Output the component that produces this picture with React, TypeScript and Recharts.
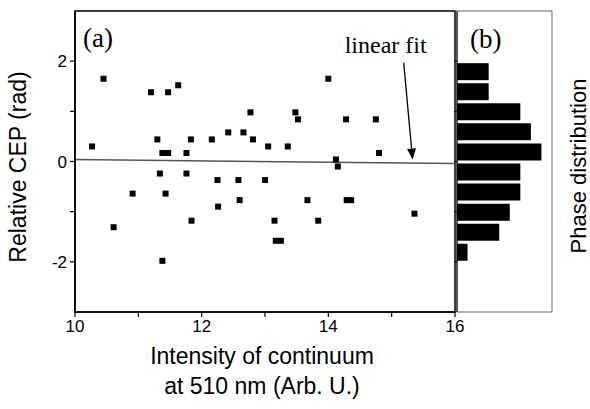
import React from 'react';
import {
  ScatterChart,
  Scatter,
  XAxis,
  YAxis,
  ReferenceLine,
  ReferenceArea,
  BarChart,
  Bar,
} from 'recharts';

// ---- Data ----
const intensity = [
  10.45, 11.2, 11.47, 11.63, 10.27, 11.3, 11.83, 11.38, 11.47, 11.76,
  14.0, 12.77, 13.48, 13.52, 12.16, 12.42, 12.66, 12.81, 13.05, 13.36,
  14.28, 14.75, 14.8, 14.12, 14.15, 11.34, 11.76, 10.91, 11.43, 11.84,
  10.61, 11.38, 12.25, 12.58, 13.0, 12.26, 12.6, 13.67, 13.15, 13.84,
  13.17, 13.25, 14.29, 14.36, 15.36,
];
const relativeCep = [
  1.65, 1.38, 1.38, 1.52, 0.3, 0.44, 0.44, 0.17, 0.17, 0.17,
  1.65, 0.98, 0.98, 0.84, 0.44, 0.58, 0.58, 0.44, 0.3, 0.3,
  0.84, 0.84, 0.17, 0.04, -0.1, -0.24, -0.24, -0.64, -0.64, -1.18,
  -1.31, -1.98, -0.37, -0.37, -0.37, -0.9, -0.77, -0.77, -1.18, -1.18,
  -1.58, -1.58, -0.77, -0.77, -1.04,
];
const xTicks = [10, 11, 12, 13, 14, 15, 16];
const yTicks = [-2, -1, 0, 1, 2];
const fitX = [10, 16];
const fitY = [0.04, -0.04];
const arrowX = [15.19, 15.33];
const arrowY = [1.97, 0.04];
const phaseBins = [1.8, 1.4, 1.0, 0.6, 0.2, -0.2, -0.6, -1.0, -1.4, -1.8];
const phaseCounts = [3, 3, 6, 7, 8, 6, 6, 5, 4, 1];

const points = intensity.map((x, i) => ({ x, y: relativeCep[i] }));
const hist = phaseBins.map((p, i) => ({ phase: p, count: phaseCounts[i] }));

const SANS = '"Liberation Sans", Arial, sans-serif';
const SERIF = '"Liberation Serif", "Times New Roman", serif';

const Square = (props: any) => {
  const { cx, cy } = props;
  if (cx == null || cy == null) return null;
  return <rect x={cx - 3} y={cy - 3} width={6} height={6} fill="#000" />;
};

const ArrowShape = (props: any) => {
  const { x1, y1, x2, y2 } = props;
  const dx = x2 - x1;
  const dy = y2 - y1;
  const len = Math.sqrt(dx * dx + dy * dy) || 1;
  const ux = dx / len;
  const uy = dy / len;
  const hl = 11;
  const hw = 4.5;
  const bx = x2 - ux * hl;
  const by = y2 - uy * hl;
  const px = -uy;
  const py = ux;
  return (
    <g>
      <line x1={x1} y1={y1} x2={bx} y2={by} stroke="#000" strokeWidth={1.3} />
      <polygon
        points={`${x2},${y2} ${bx + px * hw},${by + py * hw} ${bx - px * hw},${by - py * hw}`}
        fill="#000"
      />
      <text x={x1 - 18} y={y1 - 10} textAnchor="middle" fontFamily={SERIF} fontSize={24} fill="#000">
        linear fit
      </text>
    </g>
  );
};

const EmptyTick = () => <g />;

export default function App() {
  return (
    <div style={{ position: 'absolute', left: 0, top: 0, width: 590, height: 409, background: '#fff' }}>
      <div style={{ position: 'absolute', left: 0, top: 0 }}>
        <ScatterChart width={590} height={409} margin={{ top: 11, right: 135, bottom: 0, left: 0 }}>
          <XAxis
            type="number"
            dataKey="x"
            domain={[10, 16]}
            ticks={xTicks}
            interval={0}
            tickFormatter={(v: number) => (v % 2 === 0 ? String(v) : '')}
            height={97}
            axisLine={{ stroke: '#000', strokeWidth: 1.5 }}
            tickLine={{ stroke: '#000', strokeWidth: 1.2 }}
            tickSize={5}
            tickMargin={3}
            tick={{ fill: '#000', fontSize: 17, fontFamily: SANS }}
            label={{
              content: () => (
                <text textAnchor="middle" fontFamily={SANS} fontSize={23} fill="#000">
                  <tspan x={262} y={364}>Intensity of continuum</tspan>
                  <tspan x={262} y={394}>at 510 nm (Arb. U.)</tspan>
                </text>
              ),
            }}
          />
          <YAxis
            type="number"
            dataKey="y"
            domain={[-3, 3]}
            ticks={yTicks}
            interval={0}
            tickFormatter={(v: number) => (v % 2 === 0 ? String(v) : '')}
            width={75}
            axisLine={{ stroke: '#000', strokeWidth: 1.5 }}
            tickLine={{ stroke: '#000', strokeWidth: 1.2 }}
            tickSize={5}
            tickMargin={3}
            tick={{ fill: '#000', fontSize: 17, fontFamily: SANS }}
            label={{
              content: () => (
                <text
                  x={18}
                  y={167}
                  transform="rotate(-90 18 167)"
                  textAnchor="middle"
                  dominantBaseline="central"
                  fontFamily={SANS}
                  fontSize={23}
                  fill="#000"
                >
                  Relative CEP (rad)
                </text>
              ),
            }}
          />
          <ReferenceArea
            x1={10}
            x2={16}
            y1={-3}
            y2={3}
            fill="none"
            fillOpacity={0}
            stroke="#000"
            strokeWidth={1.5}
            label={{
              content: (p: any) => (
                <text x={p.viewBox.x + 8} y={p.viewBox.y + 36} fontFamily={SERIF} fontSize={27} fill="#000">
                  (a)
                </text>
              ),
            }}
          />
          <ReferenceLine
            segment={[
              { x: fitX[0], y: fitY[0] },
              { x: fitX[1], y: fitY[1] },
            ]}
            stroke="#555"
            strokeWidth={1.5}
          />
          <ReferenceLine
            segment={[
              { x: arrowX[0], y: arrowY[0] },
              { x: arrowX[1], y: arrowY[1] },
            ]}
            shape={ArrowShape}
          />
          <Scatter data={points} shape={Square} isAnimationActive={false} />
        </ScatterChart>
      </div>
      <div style={{ position: 'absolute', left: 440, top: 0 }}>
        <BarChart
          width={150}
          height={409}
          layout="vertical"
          data={hist}
          margin={{ top: 11, right: 38, bottom: 97, left: 0 }}
        >
          <XAxis type="number" domain={[0, 9]} hide />
          <YAxis
            type="number"
            dataKey="phase"
            domain={[-3, 3]}
            reversed
            ticks={yTicks}
            interval={0}
            width={17}
            tick={EmptyTick}
            tickSize={3}
            axisLine={{ stroke: '#000', strokeWidth: 1 }}
            tickLine={{ stroke: '#000' }}
            label={{
              content: () => (
                <text
                  x={138}
                  y={166}
                  transform="rotate(-90 138 166)"
                  textAnchor="middle"
                  dominantBaseline="central"
                  fontFamily={SANS}
                  fontSize={22}
                  fill="#000"
                >
                  Phase distribution
                </text>
              ),
            }}
          />
          <ReferenceArea
            x1={0}
            x2={9}
            y1={-3}
            y2={3}
            fill="none"
            fillOpacity={0}
            stroke="#666"
            strokeWidth={1}
            label={{
              content: (p: any) => (
                <text x={p.viewBox.x + 13} y={p.viewBox.y + 37} fontFamily={SERIF} fontSize={27} fill="#000">
                  (b)
                </text>
              ),
            }}
          />
          <Bar dataKey="count" fill="#000" barSize={17} isAnimationActive={false} />
        </BarChart>
      </div>
    </div>
  );
}
